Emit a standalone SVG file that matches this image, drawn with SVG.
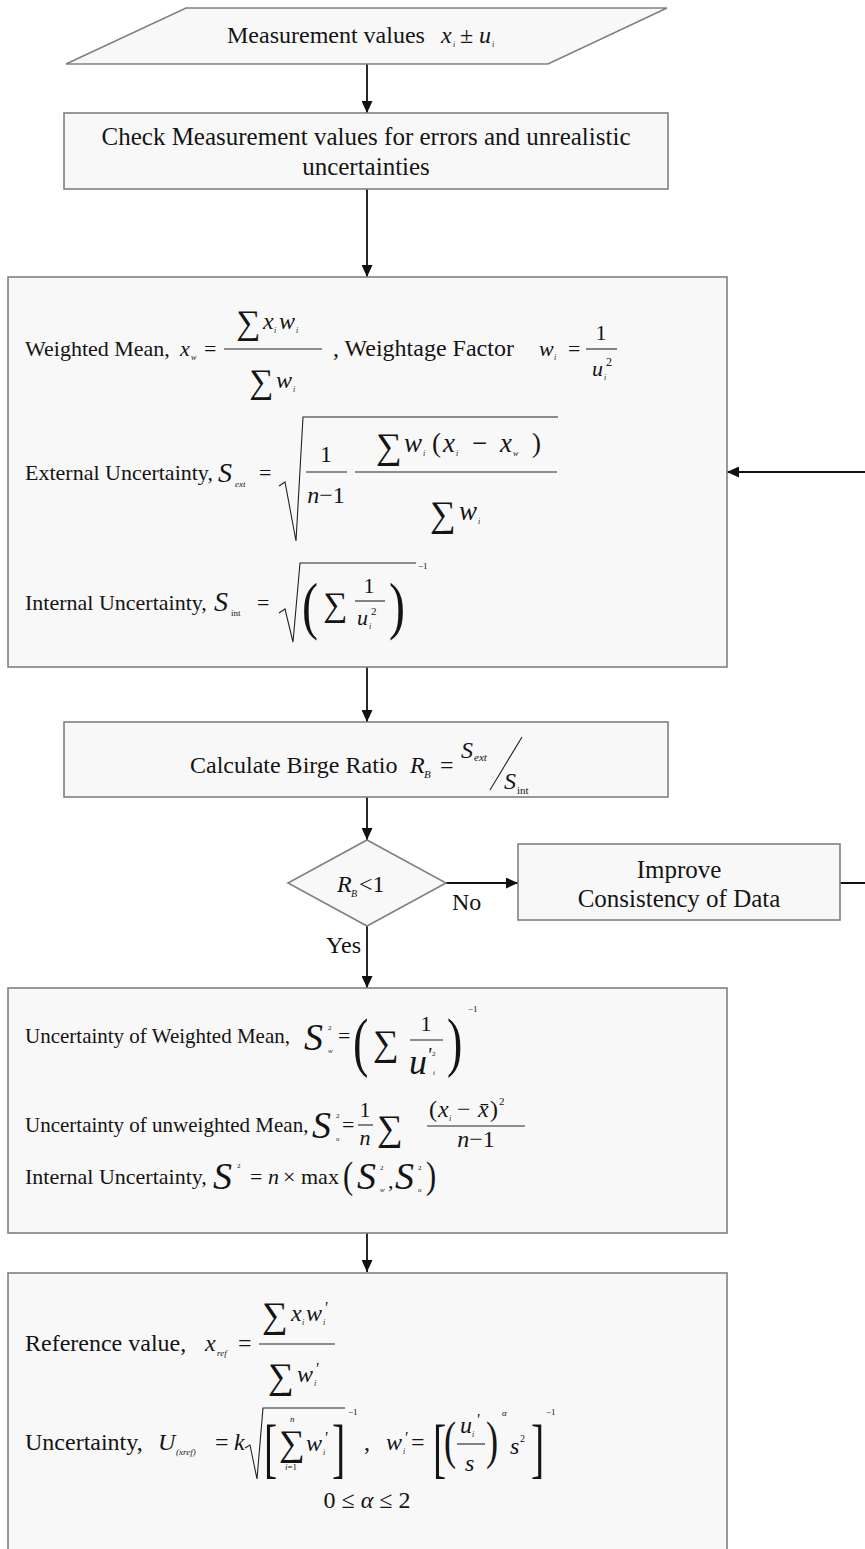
<svg xmlns="http://www.w3.org/2000/svg" width="865" height="1549" viewBox="0 0 865 1549">
<defs>
<style>
text{font-family:"Liberation Serif","Times New Roman","DejaVu Serif",serif;fill:#141414}
.i{font-style:italic}
.box{fill:#f8f8f8;stroke:#808080;stroke-width:1.6}
.c{fill:none;stroke:#111;stroke-width:1.8}
.b{stroke:#222;stroke-width:1.1;fill:none}
.s{font-size:8px}
.f21{font-size:21px}
.f22{font-size:22px}
.f24{font-size:24px}
.f25{font-size:25px}
</style>
<marker id="ah" viewBox="0 0 12 11" refX="12" refY="5.5" markerWidth="12" markerHeight="11" markerUnits="userSpaceOnUse" orient="auto"><path d="M0,0 L12,5.5 L0,11 z" fill="#111"/></marker>
</defs>
<rect width="865" height="1549" fill="#fff"/>

<g id="connectors">
<path class="c" d="M367,64 V113" marker-end="url(#ah)"/>
<path class="c" d="M367,189 V277" marker-end="url(#ah)"/>
<path class="c" d="M367,667 V722" marker-end="url(#ah)"/>
<path class="c" d="M367,797 V840" marker-end="url(#ah)"/>
<path class="c" d="M446,883 H518" marker-end="url(#ah)"/>
<path class="c" d="M367,926 V988" marker-end="url(#ah)"/>
<path class="c" d="M367,1233 V1272" marker-end="url(#ah)"/>
<path class="c" d="M840,883 H880 V472 H727" marker-end="url(#ah)"/>
<text x="452" y="910" class="f24">No</text>
<text x="361" y="953" class="f24" text-anchor="end">Yes</text>
</g>

<g id="n1-input">
<polygon class="box" points="186,8 667,8 548,64 66,64"/>
<text x="227" y="43" class="f24">Measurement values</text>
<text x="441" y="43" class="i f24">x</text>
<text x="453" y="47" class="i s">i</text>
<text x="460" y="43" class="f24">±</text>
<text x="479" y="43" class="i f24">u</text>
<text x="492" y="47" class="i s">i</text>
</g>

<g id="n2-check">
<rect class="box" x="64" y="113" width="604" height="76"/>
<text x="366" y="145" class="f25" text-anchor="middle">Check Measurement values for errors and unrealistic</text>
<text x="366" y="175" class="f25" text-anchor="middle">uncertainties</text>
</g>

<g id="n3-statistics">
<rect class="box" x="8" y="277" width="719" height="390"/>
<!-- weighted mean -->
<text x="25" y="356" class="f22">Weighted Mean,</text>
<text x="180" y="356" class="i f22">x</text>
<text x="191" y="360" class="i s">w</text>
<text x="204" y="356" class="f22">=</text>
<line class="b" x1="224" y1="349" x2="322" y2="349"/>
<text x="236" y="334" font-size="34">∑</text>
<text x="263" y="329" class="i f24">x</text>
<text x="274" y="333" class="i s">i</text>
<text x="279" y="329" class="i f24">w</text>
<text x="296" y="333" class="i s">i</text>
<text x="249" y="393" font-size="34">∑</text>
<text x="276" y="388" class="i f24">w</text>
<text x="293" y="392" class="i s">i</text>
<text x="333" y="356" class="f24">, Weightage Factor</text>
<text x="539" y="356" class="i f22">w</text>
<text x="554" y="360" class="i s">i</text>
<text x="568" y="356" class="f22">=</text>
<line class="b" x1="586" y1="349" x2="617" y2="349"/>
<text x="601" y="340" class="f22" text-anchor="middle">1</text>
<text x="592" y="376" class="i f22">u</text>
<text x="604" y="380" class="i s">i</text>
<text x="606" y="366" font-size="12">2</text>
<!-- external -->
<text x="25" y="480" class="f22">External Uncertainty,</text>
<text x="218" y="482" class="i" font-size="28">S</text>
<text x="235" y="487" class="i" font-size="9">ext</text>
<text x="259" y="480" class="f22">=</text>
<path class="b" d="M279,486 L285,482 L296,541 L303,417 H558"/>
<text x="326" y="462" class="f24" text-anchor="middle">1</text>
<line class="b" x1="306" y1="472" x2="347" y2="472"/>
<text x="326" y="503" class="f24" text-anchor="middle"><tspan class="i">n</tspan>−1</text>
<line class="b" x1="355" y1="472" x2="557" y2="472"/>
<text x="376" y="458" font-size="36">∑</text>
<text x="404" y="452" class="i" font-size="27">w</text>
<text x="423" y="456" class="i s">i</text>
<text x="432" y="452" font-size="27">(</text>
<text x="443" y="452" class="i" font-size="27">x</text>
<text x="456" y="456" class="i s">i</text>
<text x="472" y="452" font-size="27">−</text>
<text x="500" y="452" class="i" font-size="27">x</text>
<text x="513" y="456" class="i s">w</text>
<text x="532" y="452" font-size="27">)</text>
<text x="430" y="526" font-size="36">∑</text>
<text x="459" y="520" class="i" font-size="27">w</text>
<text x="478" y="524" class="i s">i</text>
<!-- internal -->
<text x="25" y="610" class="f22">Internal Uncertainty,</text>
<text x="214" y="611" class="i" font-size="28">S</text>
<text x="231" y="616" font-size="9">int</text>
<text x="257" y="610" class="f22">=</text>
<path class="b" d="M279,613 L285,609 L293,642 L300,563 H416"/>
<text transform="translate(302,627) scale(0.75,1)" font-size="64">(</text>
<text x="323" y="616" font-size="34">∑</text>
<text x="369" y="593" class="f22" text-anchor="middle">1</text>
<line class="b" x1="355" y1="601" x2="385" y2="601"/>
<text x="357" y="625" class="i f22">u</text>
<text x="369" y="629" class="i s">i</text>
<text x="371" y="615" font-size="11">2</text>
<text transform="translate(389,627) scale(0.75,1)" font-size="64">)</text>
<text x="418" y="569" font-size="9">−1</text>
</g>

<g id="n4-birge">
<rect class="box" x="64" y="722" width="604" height="75"/>
<text x="190" y="773" class="f24">Calculate Birge Ratio</text>
<text x="410" y="773" class="i f24">R</text>
<text x="424" y="778" class="i" font-size="11">B</text>
<text x="440" y="773" class="f24">=</text>
<text x="461" y="758" class="i f24">S</text>
<text x="474" y="761" class="i" font-size="11">ext</text>
<line class="b" x1="490" y1="790" x2="522" y2="737"/>
<text x="504" y="789" class="i f24">S</text>
<text x="517" y="794" font-size="11">int</text>
</g>

<g id="n5-decision">
<polygon class="box" points="367,840 446,883 367,926 288,883"/>
<text x="337" y="892" class="i f24">R</text>
<text x="351" y="897" class="i" font-size="10">B</text>
<text x="359" y="892" class="f24">&lt;1</text>
</g>

<g id="n6-improve">
<rect class="box" x="518" y="844" width="322" height="76"/>
<text x="679" y="878" class="f25" text-anchor="middle">Improve</text>
<text x="679" y="907" class="f25" text-anchor="middle">Consistency of Data</text>
</g>

<g id="n7-uncertainty">
<rect class="box" x="8" y="988" width="719" height="245"/>
<!-- weighted mean uncertainty -->
<text x="25" y="1043" class="f21">Uncertainty of Weighted Mean,</text>
<text x="304" y="1050" class="i" font-size="38">S</text>
<text x="328" y="1053" class="i" font-size="7">w</text>
<text x="328" y="1030" font-size="7">2</text>
<text x="338" y="1043" class="f22">=</text>
<text transform="translate(353,1064) scale(0.7,1)" font-size="66">(</text>
<text x="373" y="1055" font-size="36">∑</text>
<text x="426" y="1031" class="f22" text-anchor="middle">1</text>
<line class="b" x1="410" y1="1040" x2="443" y2="1040"/>
<text x="409" y="1074" class="i" font-size="36">u</text>
<text x="427" y="1062" class="i" font-size="20">'</text>
<text x="432" y="1056" font-size="7">2</text>
<text x="433" y="1075" class="i" font-size="7">i</text>
<text transform="translate(447,1064) scale(0.7,1)" font-size="66">)</text>
<text x="468" y="1012" font-size="9">−1</text>
<!-- unweighted -->
<text x="25" y="1132" class="f21">Uncertainty of unweighted Mean,</text>
<text x="312" y="1138" class="i" font-size="38">S</text>
<text x="336" y="1141" class="i" font-size="7">u</text>
<text x="336" y="1118" font-size="7">2</text>
<text x="342" y="1132" class="f22">=</text>
<text x="365" y="1117" class="f22" text-anchor="middle">1</text>
<line class="b" x1="358" y1="1125" x2="373" y2="1125"/>
<text x="365" y="1145" class="i f22" text-anchor="middle">n</text>
<text x="377" y="1140" font-size="36">∑</text>
<line class="b" x1="427" y1="1126" x2="525" y2="1126"/>
<text x="429" y="1117" class="f24">(</text>
<text x="438" y="1117" class="i f24">x</text>
<text x="449" y="1121" class="i s">i</text>
<text x="457" y="1117" class="f24">−</text>
<text x="478" y="1117" class="i f24">x̄</text>
<text x="490" y="1117" class="f24">)</text>
<text x="499" y="1105" font-size="11">2</text>
<text x="476" y="1147" class="f24" text-anchor="middle"><tspan class="i">n</tspan>−1</text>
<!-- internal -->
<text x="25" y="1184" class="f22">Internal Uncertainty,</text>
<text x="213" y="1189" class="i" font-size="38">S</text>
<text x="237" y="1168" font-size="7">2</text>
<text x="250" y="1184" class="f22">=</text>
<text x="268" y="1184" class="i f22">n</text>
<text x="283" y="1184" class="f22">×</text>
<text x="301" y="1184" class="f22">max</text>
<text transform="translate(343,1188) scale(0.8,1)" font-size="38">(</text>
<text x="357" y="1189" class="i" font-size="38">S</text>
<text x="380" y="1192" class="i" font-size="7">w</text>
<text x="380" y="1170" font-size="7">2</text>
<text x="388" y="1188" class="f22">,</text>
<text x="395" y="1189" class="i" font-size="38">S</text>
<text x="418" y="1192" class="i" font-size="7">u</text>
<text x="418" y="1170" font-size="7">2</text>
<text transform="translate(426,1188) scale(0.8,1)" font-size="38">)</text>
</g>

<g id="n8-reference">
<rect class="box" x="8" y="1273" width="719" height="300"/>
<!-- reference value -->
<text x="25" y="1351" class="f24">Reference value,</text>
<text x="205" y="1351" class="i f24">x</text>
<text x="217" y="1356" class="i" font-size="9">ref</text>
<text x="238" y="1351" class="f24">=</text>
<line class="b" x1="259" y1="1344" x2="335" y2="1344"/>
<text x="262" y="1327" font-size="36">∑</text>
<text x="291" y="1321" class="i f24">x</text>
<text x="302" y="1325" class="i s">i</text>
<text x="306" y="1321" class="i f24">w</text>
<text x="323" y="1325" class="i s">i</text>
<text x="324" y="1313" class="i" font-size="16">'</text>
<text x="268" y="1388" font-size="36">∑</text>
<text x="297" y="1382" class="i f24">w</text>
<text x="314" y="1386" class="i s">i</text>
<text x="315" y="1374" class="i" font-size="16">'</text>
<!-- uncertainty -->
<text x="25" y="1450" class="f24">Uncertainty,</text>
<text x="158" y="1450" class="i f24">U</text>
<text x="176" y="1455" class="i" font-size="9">(xref)</text>
<text x="215" y="1450" class="f24">=</text>
<text x="234" y="1450" class="i f24">k</text>
<path class="b" d="M245,1448 L250,1445 L257,1479 L263,1408 H345"/>
<text transform="translate(264,1470) scale(0.6,1)" font-size="66">[</text>
<text x="279" y="1455" font-size="36">∑</text>
<text x="290" y="1422" class="i" font-size="9">n</text>
<text x="285" y="1470" font-size="9"><tspan class="i">i</tspan>=1</text>
<text x="306" y="1451" class="i f24">w</text>
<text x="323" y="1455" class="i s">i</text>
<text x="324" y="1443" class="i" font-size="16">'</text>
<text transform="translate(332,1470) scale(0.6,1)" font-size="66">]</text>
<text x="348" y="1415" font-size="9">−1</text>
<text x="364" y="1450" class="f24">,</text>
<text x="386" y="1450" class="i f24">w</text>
<text x="403" y="1454" class="i s">i</text>
<text x="404" y="1443" class="i" font-size="16">'</text>
<text x="411" y="1450" class="f24">=</text>
<text transform="translate(433,1470) scale(0.6,1)" font-size="66">[</text>
<text transform="translate(444,1458) scale(0.7,1)" font-size="52">(</text>
<text x="460" y="1433" class="i f24">u</text>
<text x="472" y="1437" class="i s">i</text>
<text x="476" y="1425" class="i" font-size="16">'</text>
<line class="b" x1="457" y1="1444" x2="485" y2="1444"/>
<text x="465" y="1471" class="i f24">s</text>
<text transform="translate(486,1458) scale(0.7,1)" font-size="52">)</text>
<text x="502" y="1416" class="i" font-size="9">α</text>
<text x="510" y="1454" class="i f24">s</text>
<text x="520" y="1442" font-size="10">2</text>
<text transform="translate(531,1470) scale(0.6,1)" font-size="66">]</text>
<text x="546" y="1415" font-size="9">−1</text>
<text x="367" y="1508" class="f24" text-anchor="middle">0 ≤ <tspan class="i">α</tspan> ≤ 2</text>
</g>
</svg>
